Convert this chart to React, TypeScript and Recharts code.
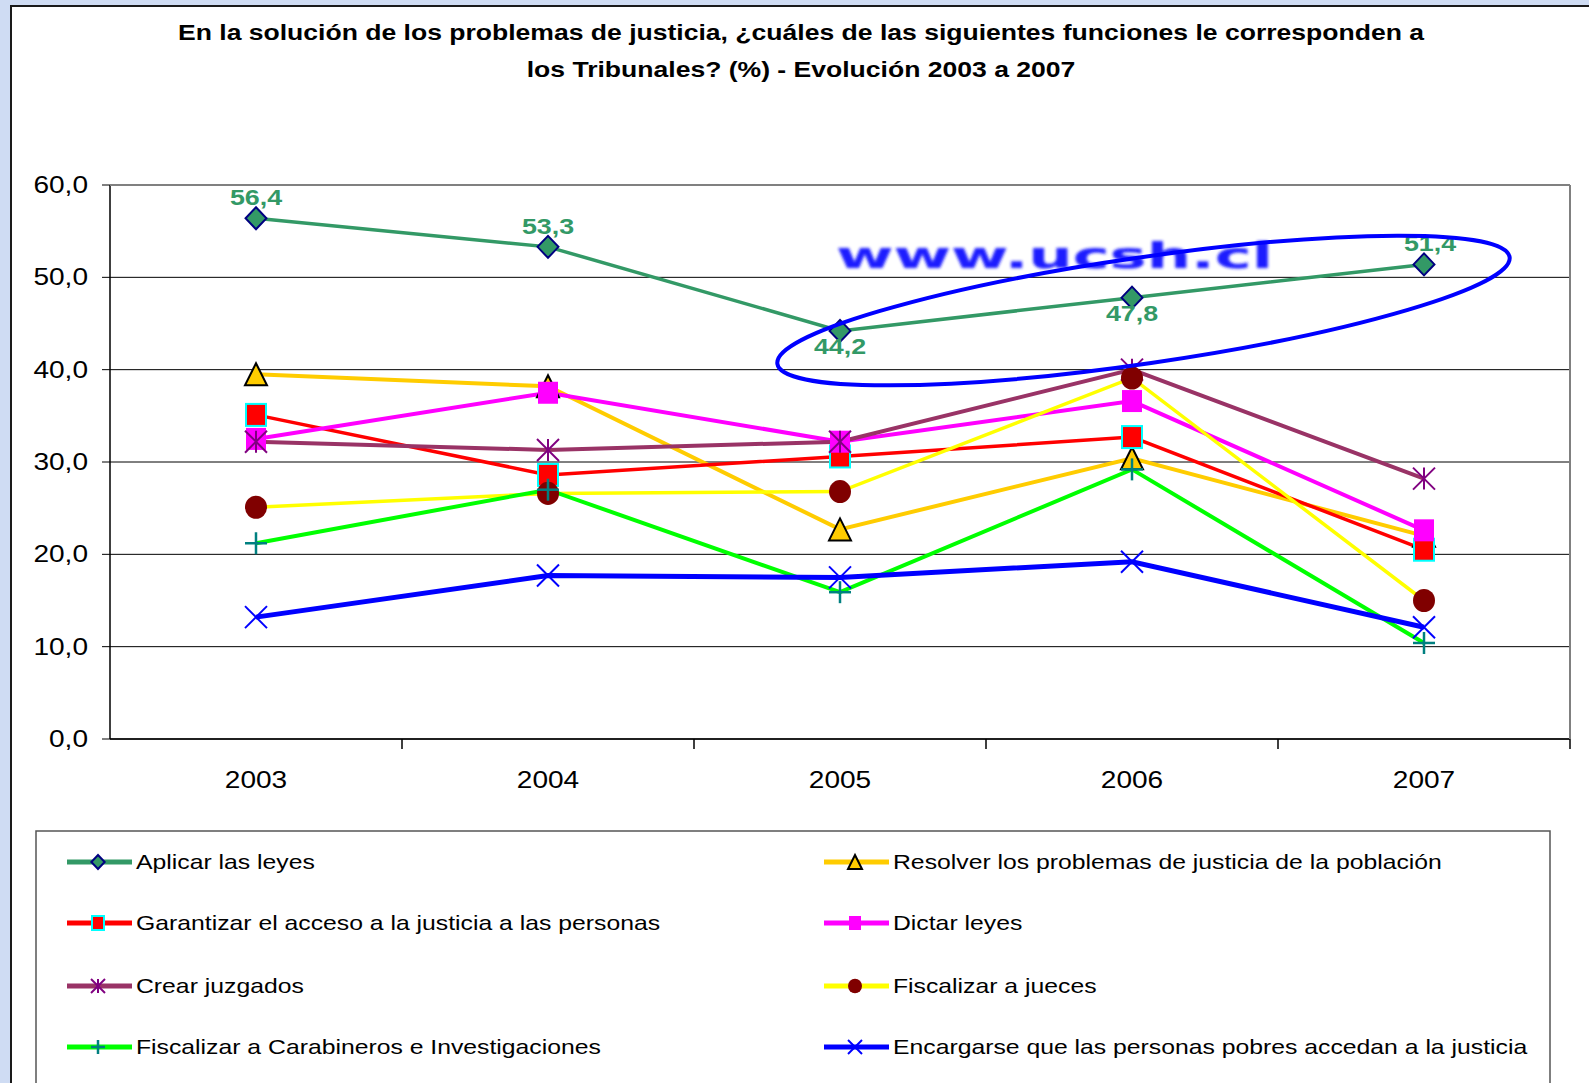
import React from "react";
import { LineChart, Line, XAxis, YAxis, CartesianGrid, LabelList } from "recharts";

const years = ["2003", "2004", "2005", "2006", "2007"];
const aplicarLeyes = [56.4, 53.3, 44.2, 47.8, 51.4];
const resolverProblemas = [39.5, 38.2, 22.7, 30.4, 22.0];
const garantizarAcceso = [35.1, 28.6, 30.6, 32.7, 20.5];
const dictarLeyes = [32.5, 37.5, 32.2, 36.6, 22.6];
const crearJuzgados = [32.2, 31.3, 32.2, 40.0, 28.2];
const fiscalizarJueces = [25.1, 26.6, 26.8, 39.1, 15.0];
const fiscalizarCarabineros = [21.2, 27.0, 15.9, 29.2, 10.4];
const encargarsePobres = [13.2, 17.7, 17.5, 19.2, 12.1];
const yTicks = [0, 10, 20, 30, 40, 50, 60];

const titleLines = [
  "En la solución de los problemas de justicia, ¿cuáles de las siguientes funciones le corresponden a",
  "los Tribunales? (%) - Evolución 2003 a 2007",
];

const series = [
  { key: "aplicar", name: "Aplicar las leyes", values: aplicarLeyes, color: "#339966", marker: "diamond", width: 3.5 },
  { key: "resolver", name: "Resolver los problemas de justicia de la población", values: resolverProblemas, color: "#FFCC00", marker: "triangle", width: 4 },
  { key: "garantizar", name: "Garantizar el acceso a la justicia a las personas", values: garantizarAcceso, color: "#FF0000", marker: "squareCyan", width: 3.5 },
  { key: "dictar", name: "Dictar leyes", values: dictarLeyes, color: "#FF00FF", marker: "square", width: 4 },
  { key: "crear", name: "Crear juzgados", values: crearJuzgados, color: "#993366", marker: "asterisk", width: 4 },
  { key: "jueces", name: "Fiscalizar a jueces", values: fiscalizarJueces, color: "#FFFF00", marker: "circle", width: 3.5 },
  { key: "carabineros", name: "Fiscalizar a Carabineros e Investigaciones", values: fiscalizarCarabineros, color: "#00FF00", marker: "plus", width: 4 },
  { key: "pobres", name: "Encargarse que las personas pobres accedan a la justicia", values: encargarsePobres, color: "#0000FF", marker: "cross", width: 5 },
];

const data = years.map((year, i) => {
  const row: Record<string, string | number> = { year };
  series.forEach((s) => (row[s.key] = s.values[i]));
  return row;
});

const FONT = '"Liberation Sans", Arial, Helvetica, sans-serif';
const SX = 1.22; // the original picture is stretched sideways
const HALF_BAND = 146;

function Marker({ kind, cx, cy, s }: { kind: string; cx: number; cy: number; s: number }) {
  const h = s / 2;
  switch (kind) {
    case "diamond":
      return <polygon points={`${cx},${cy - h} ${cx + h * 0.95},${cy} ${cx},${cy + h} ${cx - h * 0.95},${cy}`} fill="#339966" stroke="#000080" strokeWidth={2} />;
    case "triangle":
      return <polygon points={`${cx},${cy - h} ${cx + h},${cy + h} ${cx - h},${cy + h}`} fill="#FFCC00" stroke="#000" strokeWidth={2} />;
    case "squareCyan":
      return <rect x={cx - h + 1} y={cy - h} width={s - 2} height={s} fill="#FF0000" stroke="#00FFFF" strokeWidth={2} />;
    case "square":
      return <rect x={cx - h + 1} y={cy - h} width={s - 2} height={s} fill="#FF00FF" />;
    case "asterisk":
      return (
        <g stroke="#800080" strokeWidth={2}>
          <line x1={cx} y1={cy - h} x2={cx} y2={cy + h} />
          <line x1={cx - h} y1={cy - h} x2={cx + h} y2={cy + h} />
          <line x1={cx - h} y1={cy + h} x2={cx + h} y2={cy - h} />
        </g>
      );
    case "circle":
      return <ellipse cx={cx} cy={cy} rx={h} ry={h * 1.05} fill="#800000" />;
    case "plus":
      return (
        <g stroke="#008080" strokeWidth={2.5}>
          <line x1={cx} y1={cy - h} x2={cx} y2={cy + h} />
          <line x1={cx - h} y1={cy} x2={cx + h} y2={cy} />
        </g>
      );
    case "cross":
      return (
        <g stroke="#0000FF" strokeWidth={2}>
          <line x1={cx - h} y1={cy - h} x2={cx + h} y2={cy + h} />
          <line x1={cx - h} y1={cy + h} x2={cx + h} y2={cy - h} />
        </g>
      );
    default:
      return null;
  }
}

const XTick = (props: any) => {
  const { x, y, payload } = props;
  return (
    <g>
      <line x1={x + HALF_BAND} y1={y} x2={x + HALF_BAND} y2={y + 10} stroke="#000" strokeWidth={1.5} />
      <text transform={`translate(${x},${y + 49}) scale(${SX},1)`} textAnchor="middle" fontSize={23} fontFamily={FONT} fill="#000">
        {payload.value}
      </text>
    </g>
  );
};

const YTick = (props: any) => {
  const { x, y, payload } = props;
  return (
    <text transform={`translate(${x},${y + 8}) scale(${SX},1)`} textAnchor="end" fontSize={23} fontFamily={FONT} fill="#000">
      {Number(payload.value).toFixed(1).replace(".", ",")}
    </text>
  );
};

// labels under the line at the dip, above it elsewhere
const AplicarLabel = (props: any) => {
  const { x, y, value, index } = props;
  const below = index === 2 || index === 3;
  const ty = below ? y + 23 : y - 13;
  return (
    <text transform={`translate(${x + (index === 4 ? 6 : 0)},${ty}) scale(${SX},1)`} textAnchor="middle" fontSize={22} fontWeight="bold" fontFamily={FONT} fill="#339966">
      {Number(value).toFixed(1).replace(".", ",")}
    </text>
  );
};

export default function App() {
  const legendCols = [
    { lineX: 67, text: 136 },
    { lineX: 824, text: 893 },
  ];
  const rowY = [862, 923, 986, 1047];

  return (
    <div style={{ position: "absolute", left: 0, top: 0, width: 1589, height: 1083, background: "#cfdcf3", overflow: "hidden" }}>
      <div style={{ position: "absolute", left: 10, top: 5, right: -2, bottom: -2, background: "#fff", borderLeft: "2px solid #1a1a1a", borderTop: "2px solid #1a1a1a" }} />

      <svg width={1589} height={1083} style={{ position: "absolute", left: 0, top: 0 }}>
        {titleLines.map((t, i) => (
          <text key={i} transform={`translate(801,${40 + i * 36.5}) scale(1.18,1)`} textAnchor="middle" fontSize={22.5} fontWeight="bold" fontFamily={FONT} fill="#000">
            {t}
          </text>
        ))}
        <rect x={36} y={831} width={1514} height={300} fill="#fff" stroke="#555" strokeWidth={1.5} />
        {series.map((s, i) => {
          const col = legendCols[i % 2];
          const cy = rowY[Math.floor(i / 2)];
          return (
            <g key={s.key}>
              <line x1={col.lineX} y1={cy} x2={col.lineX + 65} y2={cy} stroke={s.color} strokeWidth={5} />
              <Marker kind={s.marker} cx={col.lineX + 31} cy={cy} s={14} />
              <text transform={`translate(${col.text},${cy + 7}) scale(${SX},1)`} fontSize={20.3} fontFamily={FONT} fill="#000">
                {s.name}
              </text>
            </g>
          );
        })}
      </svg>

      <div style={{ position: "absolute", left: 0, top: 0 }}>
        <LineChart width={1589} height={1083} data={data} margin={{ top: 185, right: 19, bottom: 284, left: 30 }}>
          <CartesianGrid horizontal vertical={false} stroke="#000" strokeWidth={1} />
          <XAxis dataKey="year" scale="band" axisLine={{ stroke: "#000", strokeWidth: 1.5 }} tickLine={false} tickSize={0} tickMargin={0} height={60} tick={<XTick />} interval={0} />
          <YAxis domain={[0, 60]} ticks={yTicks} width={80} axisLine={{ stroke: "#000", strokeWidth: 1.5 }} tickLine={{ stroke: "#000" }} tickSize={8} tickMargin={14} tick={<YTick />} interval={0} />
          {series.map((s) => (
            <Line
              key={s.key}
              type="linear"
              dataKey={s.key}
              name={s.name}
              stroke={s.color}
              strokeWidth={s.width}
              isAnimationActive={false}
              activeDot={false}
              dot={(p: any) => <Marker key={`${s.key}-${p.index}`} kind={s.marker} cx={p.cx} cy={p.cy} s={22} />}
            >
              {s.key === "aplicar" && <LabelList dataKey="aplicar" content={<AplicarLabel />} />}
            </Line>
          ))}
        </LineChart>
      </div>

      <svg width={1589} height={1083} style={{ position: "absolute", left: 0, top: 0, pointerEvents: "none" }}>
        <defs>
          <filter id="soft" x="-10%" y="-50%" width="120%" height="200%">
            <feGaussianBlur stdDeviation="1.6" />
          </filter>
        </defs>
        <line x1={110} y1={185} x2={1570} y2={185} stroke="#808080" strokeWidth={2} />
        <line x1={1570} y1={185} x2={1570} y2={739} stroke="#808080" strokeWidth={2} />
        <text x={836} y={268} fontSize={36} fontWeight="900" fontFamily='"DejaVu Sans", sans-serif' fill="#1a1aff"
          textLength={437} lengthAdjust="spacingAndGlyphs" filter="url(#soft)">
          www.ucsh.cl
        </text>
        <ellipse cx={1143.5} cy={310.5} rx={370} ry={53} fill="none" stroke="#0000FF" strokeWidth={4} transform="rotate(-8.3 1143.5 310.5)" />
      </svg>
    </div>
  );
}
